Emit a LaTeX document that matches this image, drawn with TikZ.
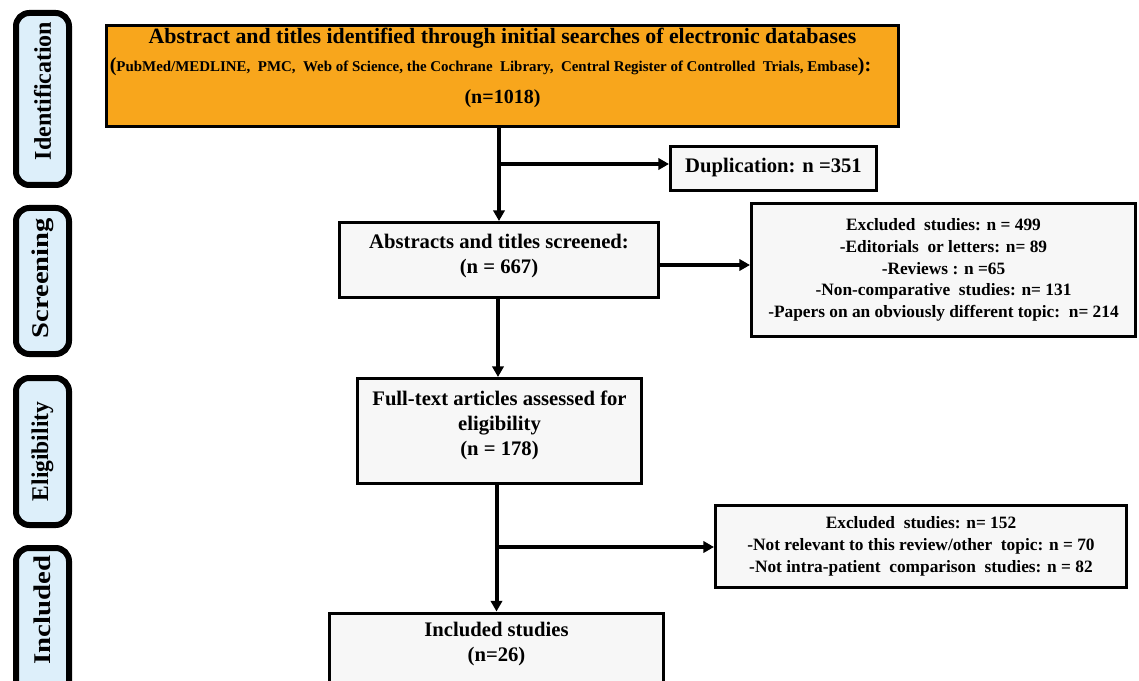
\documentclass[tikz,border=0pt]{standalone}
\usepackage{fontspec}
\setmainfont{Liberation Serif}
\usetikzlibrary{arrows.meta,calc}
\definecolor{orangefill}{RGB}{248,166,28}
\definecolor{sidefill}{RGB}{221,239,250}
\definecolor{boxfill}{RGB}{247,247,247}
\begin{document}
\begin{tikzpicture}[x=0.75pt,y=-0.75pt,
  box/.style={draw=black, line width=2.25pt, fill=boxfill, align=center,
    font=\bfseries\fontsize{15.5}{18.75}\selectfont, inner sep=0pt},
  exbox/.style={box, font=\bfseries\fontsize{13}{16.3}\selectfont},
  side/.style={draw=black, line width=4.5pt, fill=sidefill, rounded corners=10pt,
    rotate=90, inner sep=0pt, minimum height=39.75pt, font=\bfseries\fontsize{18}{20}\selectfont},
  conn/.style={line width=3pt},
  arr/.style={conn, -{Triangle[length=8pt,width=8.5pt]}}]
\useasboundingbox (0,0) rectangle (1139,681);
\clip (0,0) rectangle (1139,681);
\fill[white] (0,0) rectangle (1139,681);

% phase labels
\node[side, minimum width=129pt] (sid) at (42.5,99) {\hspace{12pt}Identification};
\node[side, minimum width=109.5pt] (sscr) at (42.5,281) {\hspace{4pt}\scalebox{1.19}[1]{Screening}};
\node[side, minimum width=110.25pt] (selig) at (42.5,451.5) {\scalebox{0.98}[1]{Eligibility}};
\node[side, minimum width=129pt] (sinc) at (42.5,634) {\hspace{36pt}\scalebox{1.2}[1]{Included}};

% boxes
\node[box, fill=orangefill, minimum width=594pt, minimum height=75.75pt,
  font=\bfseries\fontsize{16.4}{21}\selectfont, text depth=15pt] (o) at (502.5,76)
  {Abstract and titles identified through initial searches of electronic databases\\
   {\fontsize{11.2}{13}\selectfont{\fontsize{15}{15}\selectfont(}PubMed/MEDLINE,\ \ PMC,\ \ Web of Science, the Cochrane\ \ Library,\ \ Central Register of Controlled\ \ Trials, Embase{\fontsize{15}{15}\selectfont):}}\kern18pt\\[3pt]
   {\fontsize{15}{15}\selectfont (n=1018)}};

\node[box, minimum width=154.5pt, minimum height=33pt, text depth=5pt] (dup) at (773.5,168.5) {Duplication: n =351};

\node[box, minimum width=239.25pt, minimum height=56.25pt, text depth=10pt] (abs) at (499,260)
  {Abstracts and titles screened:\\(n = 667)};

\node[exbox, minimum width=288pt, minimum height=99.75pt] (exc1) at (943.5,270)
  {Excluded\ \ studies: n = 499\\
   -Editorials\ \ or letters: n= 89\\
   -Reviews : n =65\\
   -Non-comparative\ \ studies: n= 131\\
   -Papers on an obviously different topic:\ \ n= 214};

\node[box, minimum width=213pt, minimum height=78.75pt, text depth=11pt] (ft) at (499.5,431)
  {Full-text articles assessed for\\eligibility\\(n = 178)};

\node[exbox, minimum width=308.25pt, minimum height=61.5pt] (exc2) at (921,546.5)
  {Excluded\ \ studies: n= 152\\
   -Not relevant to this review/other\ \ topic: n = 70\\
   -Not intra-patient\ \ comparison\ \ studies: n = 82};

\node[box, anchor=north, minimum width=250.5pt, inner ysep=7pt, text depth=42pt] (inc) at (496.5,611.5)
  {Included studies\\(n=26)};

% connectors
\coordinate (j1) at (499,164);
\draw[arr] (abs.north |- o.south) -- (abs.north);
\draw[arr] (j1) -- (j1 -| dup.west);
\draw[arr] (abs.east |- 0,265) -- (exc1.west |- 0,265);
\draw[arr] (abs.south -| 498,0) -- (ft.north -| 498,0);
\coordinate (j2) at (497,547);
\draw[arr] (inc.north |- ft.south) -- (inc.north);
\draw[arr] (j2) -- (j2 -| exc2.west);
\end{tikzpicture}
\end{document}
